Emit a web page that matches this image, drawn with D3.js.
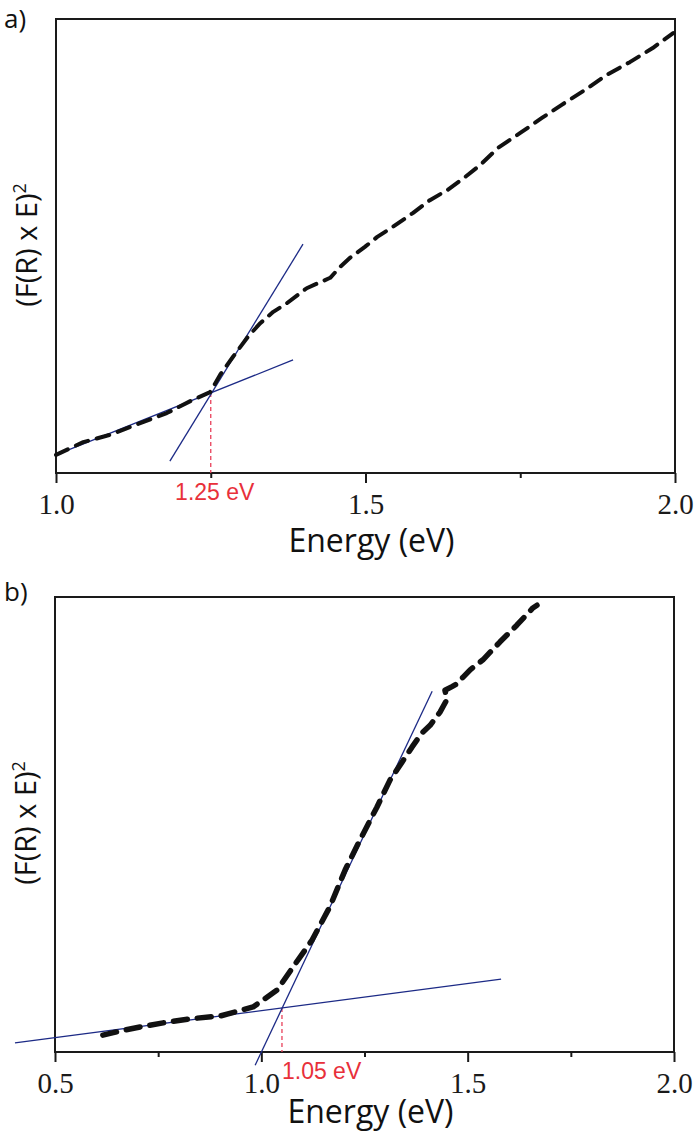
<!DOCTYPE html>
<html>
<head>
<meta charset="utf-8">
<script src="https://cdn.jsdelivr.net/npm/d3@7"></script>
<style>
  html, body { margin: 0; padding: 0; background: #fff; }
  svg { display: block; }
</style>
</head>
<body>
<svg id="chart" width="696" height="1142"></svg>
<script>
// ---------------- DATA ----------------
// Panel a) Tauc plot
const aEnergy = [1.000, 1.044, 1.087, 1.136, 1.179, 1.221, 1.249, 1.265, 1.286, 1.310, 1.330, 1.351, 1.373, 1.405, 1.443, 1.459, 1.475, 1.499, 1.519, 1.544, 1.577, 1.604, 1.632, 1.661, 1.685, 1.714, 1.750, 1.785, 1.817, 1.855, 1.890, 1.927, 1.964, 1.997];
const aSignal = [4.0, 6.8, 8.4, 11.0, 13.2, 16.1, 17.8, 21.6, 25.6, 30.0, 33.0, 35.5, 37.4, 40.7, 43.0, 45.4, 47.4, 49.8, 52.0, 54.2, 57.3, 60.1, 62.3, 65.2, 67.8, 71.6, 74.9, 78.2, 81.1, 84.4, 87.7, 90.5, 93.6, 96.9];
const aBaseFitX = [1.000, 1.383];
const aBaseFitY = [4.0, 24.9];
const aEdgeFitX = [1.184, 1.399];
const aEdgeFitY = [2.6, 50.4];
const aGap = 1.25;
const aGapLabel = "1.25 eV";
const aMajorTicks = [1.0, 1.5, 2.0];
const aMinorTicks = [1.25, 1.75];

// Panel b) Tauc plot
const bEnergy = [0.616, 0.658, 0.706, 0.762, 0.827, 0.900, 0.980, 1.038, 1.077, 1.123, 1.166, 1.203, 1.239, 1.280, 1.312, 1.341, 1.365, 1.389, 1.409, 1.433, 1.450, 1.445, 1.462, 1.474, 1.489, 1.506, 1.537, 1.578, 1.619, 1.658, 1.668];
const bSignal = [3.7, 4.6, 5.5, 6.4, 7.3, 7.9, 9.9, 13.6, 18.7, 24.6, 31.9, 40.0, 46.6, 53.8, 59.8, 63.7, 67.0, 70.1, 71.8, 74.7, 77.5, 79.5, 80.3, 80.9, 82.4, 84.0, 86.2, 90.1, 93.8, 97.6, 98.2];
const bBaseFitX = [0.403, 1.581];
const bBaseFitY = [2.0, 16.0];
const bEdgeFitX = [0.985, 1.414];
const bEdgeFitY = [-2.9, 79.3];
const bGap = 1.05;
const bGapLabel = "1.05 eV";
const bMajorTicks = [0.5, 1.0, 1.5, 2.0];
const bMinorTicks = [0.75, 1.25, 1.75];

const xTitle = "Energy (eV)";
const panelLetters = ["a)", "b)"];

// ---------------- DRAW ----------------
const svg = d3.select("#chart");
const sansFont = "'Open Sans', 'Noto Sans', sans-serif";
const serifFont = "'Liberation Serif', 'DejaVu Serif', serif";

const panels = [
  { letter: panelLetters[0], left: 56, top: 19, width: 619, height: 454,
    xDomain: [1.0, 2.0], energy: aEnergy, signal: aSignal,
    baseX: aBaseFitX, baseY: aBaseFitY, edgeX: aEdgeFitX, edgeY: aEdgeFitY,
    gap: aGap, gapLabel: aGapLabel, major: aMajorTicks, minor: aMinorTicks,
    curveWidth: 4, dash: "13,9", labelAnchor: "middle", labelDx: 4,
    titleDy: 79, letterY: 28 },
  { letter: panelLetters[1], left: 55, top: 597, width: 619, height: 455,
    xDomain: [0.5, 2.0], energy: bEnergy, signal: bSignal,
    baseX: bBaseFitX, baseY: bBaseFitY, edgeX: bEdgeFitX, edgeY: bEdgeFitY,
    gap: bGap, gapLabel: bGapLabel, major: bMajorTicks, minor: bMinorTicks,
    curveWidth: 5.5, dash: "14,10", labelAnchor: "start", labelDx: 0,
    titleDy: 71, letterY: 601 }
];

panels.forEach((p, i) => {
  const x = d3.scaleLinear().domain(p.xDomain).range([p.left, p.left + p.width]);
  const y = d3.scaleLinear().domain([0, 100]).range([p.top + p.height, p.top]);
  const g = svg.append("g");

  // frame
  g.append("rect")
    .attr("x", p.left).attr("y", p.top)
    .attr("width", p.width).attr("height", p.height)
    .attr("fill", "none").attr("stroke", "#1a1a1a").attr("stroke-width", 2);

  // major ticks with labels
  const axMajor = d3.axisBottom(x).tickValues(p.major).tickSize(10).tickPadding(10)
    .tickFormat(d3.format(".1f"));
  const gm = g.append("g").attr("transform", `translate(0,${p.top + p.height})`).call(axMajor);
  gm.select(".domain").remove();
  gm.selectAll(".tick line").attr("stroke", "#1a1a1a").attr("stroke-width", 2);
  gm.selectAll(".tick text").attr("fill", "#1a1a1a")
    .style("font-family", serifFont).style("font-size", "29px");

  // minor ticks
  const axMinor = d3.axisBottom(x).tickValues(p.minor).tickSize(5).tickFormat("");
  const gn = g.append("g").attr("transform", `translate(0,${p.top + p.height})`).call(axMinor);
  gn.select(".domain").remove();
  gn.selectAll(".tick line").attr("stroke", "#1a1a1a").attr("stroke-width", 2);

  // red dashed marker
  const yIntersect = y(p.baseY[0] + (p.baseY[1] - p.baseY[0]) * (p.gap - p.baseX[0]) / (p.baseX[1] - p.baseX[0]));
  g.append("line")
    .attr("x1", x(p.gap)).attr("x2", x(p.gap))
    .attr("y1", yIntersect).attr("y2", p.top + p.height)
    .attr("stroke", "#e8405a").attr("stroke-width", 1.3).attr("stroke-dasharray", "4,3");

  // fit lines
  const fit = d3.line().x(d => x(d[0])).y(d => y(d[1]));
  [[p.baseX, p.baseY], [p.edgeX, p.edgeY]].forEach(([xs, ys]) => {
    g.append("path").datum(xs.map((v, k) => [v, ys[k]]))
      .attr("d", fit).attr("fill", "none")
      .attr("stroke", "#1c2a86").attr("stroke-width", 1.3);
  });

  // data curve
  const line = d3.line().x(d => x(d[0])).y(d => y(d[1]));
  g.append("path").datum(p.energy.map((v, k) => [v, p.signal[k]]))
    .attr("d", line).attr("fill", "none")
    .attr("stroke", "#111").attr("stroke-width", p.curveWidth)
    .attr("stroke-dasharray", p.dash).attr("stroke-linecap", "round")
    .attr("stroke-linejoin", "round");

  // gap label
  g.append("text")
    .attr("x", x(p.gap) + p.labelDx).attr("y", p.top + p.height + 27)
    .attr("text-anchor", p.labelAnchor)
    .attr("fill", "#e8303a")
    .style("font-family", "'Liberation Sans', Arial, sans-serif")
    .style("font-size", "23px")
    .text(p.gapLabel);

  // x title
  g.append("text")
    .attr("x", p.left + p.width / 2 + 6).attr("y", p.top + p.height + p.titleDy)
    .attr("text-anchor", "middle").attr("fill", "#111")
    .style("font-family", sansFont).style("font-size", "32px")
    .text(xTitle);

  // y title
  const yt = g.append("text")
    .attr("transform", `translate(${p.left - 19},${p.top + 226}) rotate(-90)`)
    .attr("text-anchor", "middle").attr("fill", "#111")
    .style("font-family", sansFont).style("font-size", "29px");
  yt.append("tspan").text("(F(R) x E)");
  yt.append("tspan").attr("dy", -11).style("font-size", "18px").text("2");

  // panel letter
  svg.append("text")
    .attr("x", 4).attr("y", p.letterY)
    .attr("fill", "#111")
    .style("font-family", sansFont).style("font-size", "26px")
    .text(p.letter);
});
</script>
</body>
</html>
